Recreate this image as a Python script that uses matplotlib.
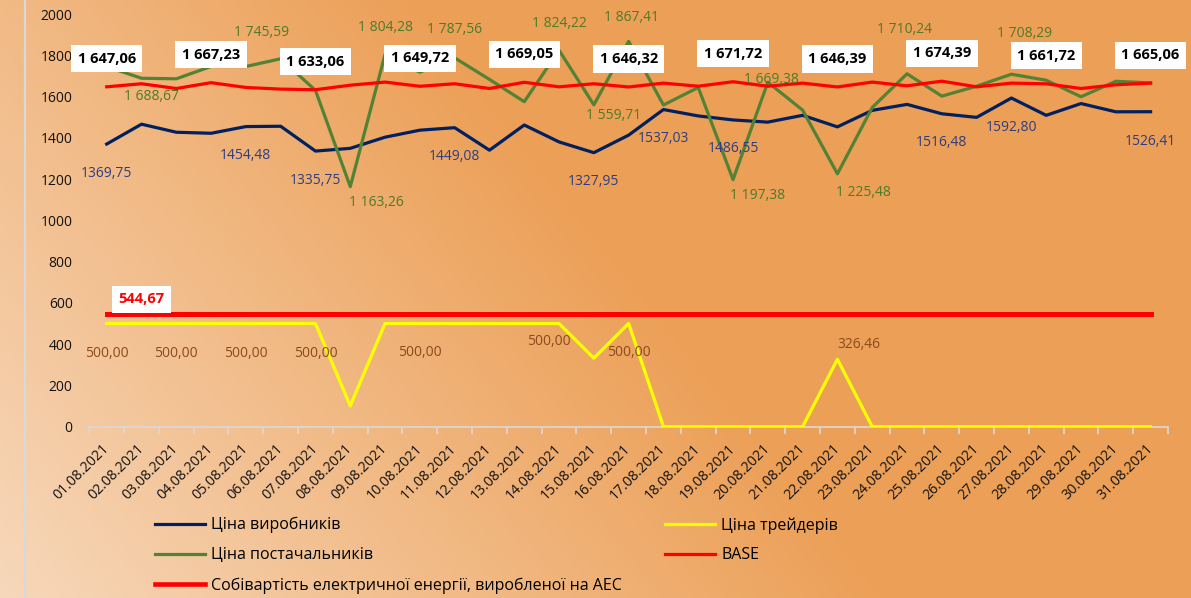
import numpy as np
import matplotlib
matplotlib.use('Agg')
import matplotlib.pyplot as plt
from matplotlib.lines import Line2D

plt.rcParams['font.family'] = ['Open Sans', 'DejaVu Sans']

# ---------------- data ----------------
dates = ["01.08.2021", "02.08.2021", "03.08.2021", "04.08.2021", "05.08.2021",
         "06.08.2021", "07.08.2021", "08.08.2021", "09.08.2021", "10.08.2021",
         "11.08.2021", "12.08.2021", "13.08.2021", "14.08.2021", "15.08.2021",
         "16.08.2021", "17.08.2021", "18.08.2021", "19.08.2021", "20.08.2021",
         "21.08.2021", "22.08.2021", "23.08.2021", "24.08.2021", "25.08.2021",
         "26.08.2021", "27.08.2021", "28.08.2021", "29.08.2021", "30.08.2021",
         "31.08.2021"]

producers = [1369.75, 1466, 1427, 1422, 1454.48, 1456, 1335.75, 1349, 1403, 1437,
             1449.08, 1340, 1462, 1380, 1327.95, 1413, 1537.03, 1506, 1486.55, 1476,
             1509, 1453, 1533, 1562, 1516.48, 1499, 1592.80, 1509, 1566, 1526,
             1526.41]

traders = [500, 500, 500, 500, 500, 500, 500, 101, 500, 500,
           500, 500, 500, 500, 332, 500, 0, 0, 0, 0,
           0, 326.46, 0, 0, 0, 0, 0, 0, 0, 0,
           0]

suppliers = [1745, 1688.67, 1686, 1746, 1745.59, 1783, 1630, 1163.26, 1804.28, 1718,
             1787.56, 1683, 1575, 1824.22, 1559.71, 1867.41, 1559, 1644, 1197.38, 1669.38,
             1534, 1225.48, 1547, 1710.24, 1602, 1650, 1708.29, 1679, 1599, 1674,
             1666]

base = [1647.06, 1662, 1639, 1667.23, 1644, 1636, 1633.06, 1655, 1670, 1649.72,
        1662, 1639, 1669.05, 1647, 1662, 1646.32, 1665, 1650, 1671.72, 1650,
        1665, 1646.39, 1670, 1652, 1674.39, 1647, 1665, 1661.72, 1639, 1657,
        1665.06]

aes_cost = 544.67

legend_names = ["Ціна виробників", "Ціна трейдерів", "Ціна постачальників", "BASE",
                "Собівартість електричної енергії, виробленої на АЕС"]

yticks = [0, 200, 400, 600, 800, 1000, 1200, 1400, 1600, 1800, 2000]

# label placement (index, dx px, dy px)
producer_lbl = [(0, 0, -29), (4, 0, -29), (6, 0, -29), (10, 0, -29), (14, 0, -29),
                (16, 0, -29), (18, 0, -29), (24, 0, -29), (26, 0, -29), (30, 0, -30)]
supplier_lbl = [(1, 10, -18), (4, 16, 34), (7, 26, -16), (8, 0, 27), (10, 0, 28),
                (13, 0, 27), (14, 20, -11), (15, 3, 24), (18, 25, -16), (19, 4, 3),
                (21, 26, -19), (23, -3, 44), (26, 13, 41)]
trader_lbl = [(0, 0, -30), (2, 0, -30), (4, 0, -30), (6, 0, -30), (9, 0, -29),
              (13, -10, -18), (15, 0, -29), (21, 21, 15)]
base_lbl = [0, 3, 6, 9, 12, 15, 18, 21, 24, 27, 30]

C_BLUE = '#002060'
C_GREEN = '#548235'
C_YELLOW = '#FFFF00'
C_RED = '#FF0000'


def fmt_space(v):
    s = f"{v:,.2f}"
    return s.replace(",", " ").replace(".", ",")


def fmt_plain(v):
    return f"{v:.2f}".replace(".", ",")


# ---------------- figure ----------------
W, H = 1191, 598
fig = plt.figure(figsize=(W / 100, H / 100), dpi=100)

# background gradient
bg = fig.add_axes([0, 0, 1, 1], zorder=-10)
yy, xx = np.mgrid[0:H, 0:W]
t = np.clip((xx + (H - yy) * 0.8) / 900.0, 0, 1)
light = np.array([247, 216, 187]) / 255.0
orange = np.array([236, 159, 86]) / 255.0
img = light + t[..., None] * (orange - light)
bg.imshow(img, aspect='auto', extent=[0, 1, 0, 1], origin='upper')
bg.set_xlim(0, 1)
bg.set_ylim(0, 1)
bg.axvline(25 / W, color='#d9d9d9', lw=1.6)
bg.axis('off')

ax = fig.add_axes([89.3 / W, 1 - 426.7 / H, (1168 - 89.3) / W, 412.7 / H])
ax.set_facecolor('none')
x = np.arange(len(dates))

ax.plot(x, producers, color=C_BLUE, lw=2.3, zorder=3)
ax.plot(x, traders, color=C_YELLOW, lw=2.3, zorder=3)
ax.plot(x, suppliers, color=C_GREEN, lw=2.3, zorder=3)
ax.plot(x, base, color=C_RED, lw=2.3, zorder=3.2)
ax.plot(x, [aes_cost] * len(x), color=C_RED, lw=3.6, zorder=3.2)

ax.set_xlim(-0.5, len(x) - 0.5)
ax.set_ylim(0, 2000)

for s in ['left', 'top', 'right']:
    ax.spines[s].set_visible(False)
ax.spines['bottom'].set_color('#d9d9d9')
ax.spines['bottom'].set_linewidth(1.2)

ax.set_yticks(yticks)
ax.set_yticklabels([str(v) for v in yticks])
ax.tick_params(axis='y', length=0, pad=12, labelsize=10, labelcolor='#111111')

ax.set_xticks(x)
ax.set_xticklabels(dates, rotation=45, ha='right', va='center',
                   rotation_mode='anchor', fontsize=10.2, color='#111111')
ax.set_xticks(np.arange(-0.5, len(x)), minor=True)
ax.tick_params(axis='x', which='major', length=0, pad=14)
ax.tick_params(axis='x', which='minor', length=5, color='#d9d9d9', width=1.2)

# data labels
for i, dx, dy in producer_lbl:
    ax.annotate(fmt_plain(producers[i]), (x[i], producers[i]), xytext=(dx, dy),
                textcoords='offset pixels', ha='center', va='center',
                fontsize=10, color='#2E3D80', zorder=5)
for i, dx, dy in supplier_lbl:
    ax.annotate(fmt_space(suppliers[i]), (x[i], suppliers[i]), xytext=(dx, dy),
                textcoords='offset pixels', ha='center', va='center',
                fontsize=10, color='#4F7A28', zorder=5)
for i, dx, dy in trader_lbl:
    ax.annotate(fmt_plain(traders[i]), (x[i], traders[i]), xytext=(dx, dy),
                textcoords='offset pixels', ha='center', va='center',
                fontsize=10, color='#8B4A1A', zorder=5)
for i in base_lbl:
    ax.annotate(fmt_space(base[i]), (x[i], base[i]), xytext=(0, 28),
                textcoords='offset pixels', ha='center', va='center',
                fontsize=10.5, fontweight='bold', color='black', zorder=6,
                bbox=dict(boxstyle='square,pad=0.45', fc='white', ec='none'))
ax.annotate(fmt_plain(aes_cost), (x[1], aes_cost), xytext=(0, 15),
            textcoords='offset pixels', ha='center', va='center',
            fontsize=10.5, fontweight='bold', color=C_RED, zorder=6,
            bbox=dict(boxstyle='square,pad=0.45', fc='white', ec='none'))

# legends
h_prod = Line2D([], [], color=C_BLUE, lw=2.3)
h_trad = Line2D([], [], color=C_YELLOW, lw=2.3)
h_supp = Line2D([], [], color=C_GREEN, lw=2.3)
h_base = Line2D([], [], color=C_RED, lw=2.3)
h_aes = Line2D([], [], color=C_RED, lw=3.3)

leg_kw = dict(frameon=False, fontsize=11.5, handlelength=3.1, handletextpad=0.42,
              labelspacing=0.87, borderpad=0, borderaxespad=0, loc='upper left')
leg1 = fig.legend([h_prod, h_supp, h_aes], [legend_names[0], legend_names[2], legend_names[4]],
                  bbox_to_anchor=(155 / W, 1 - 517 / H), **leg_kw)
leg2 = fig.legend([h_trad, h_base], [legend_names[1], legend_names[3]],
                  bbox_to_anchor=(665 / W, 1 - 517 / H), **leg_kw)

fig.savefig('out.png', dpi=100)
